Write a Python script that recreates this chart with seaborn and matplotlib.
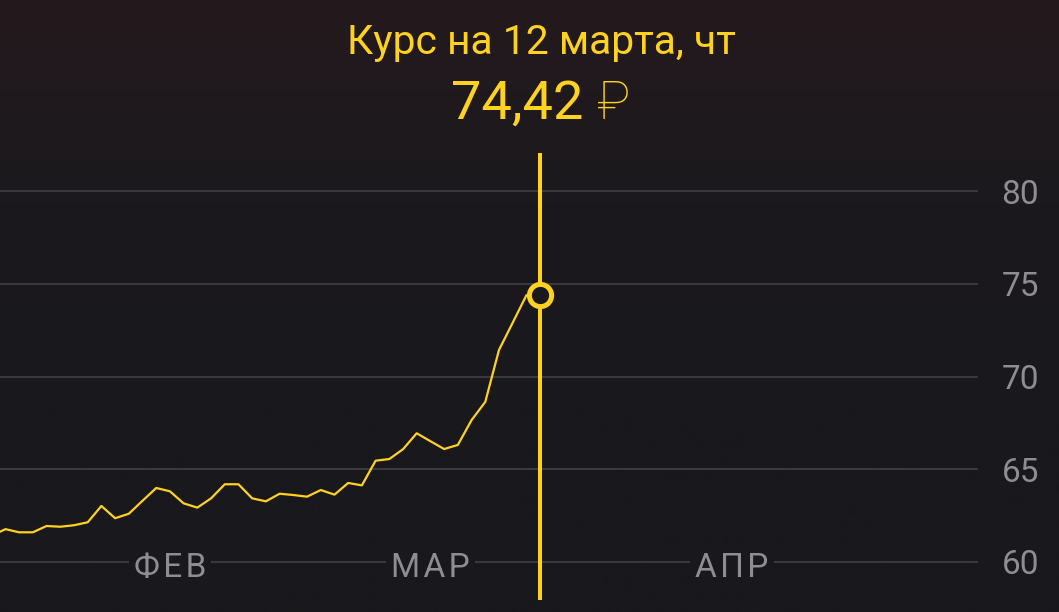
import numpy as np
import matplotlib
matplotlib.use("Agg")
import matplotlib.pyplot as plt
import seaborn as sns
from matplotlib.colors import LinearSegmentedColormap

# --- data (index = trading day, last point = 12 March) ---
rate = [61.42, 61.77, 61.60, 61.60, 61.94, 61.90, 61.98, 62.14, 63.02, 62.36,
        62.60, 63.30, 63.99, 63.81, 63.16, 62.93, 63.43, 64.19, 64.19, 63.43,
        63.27, 63.68, 63.61, 63.52, 63.88, 63.63, 64.26, 64.13, 65.46, 65.55,
        66.08, 66.94, 66.51, 66.09, 66.31, 67.65, 68.63, 71.43, 72.90, 74.38,
        74.42]
day_idx = list(range(len(rate)))
month_labels = ["Ф\u200aЕ\u200aВ", "М\u200aА\u200aР", "А\u200aП\u200aР"]
month_pos = [13, 32, 54]
y_ticks = [60, 65, 70, 75, 80]
title_text = "Курс на 12 марта, чт"
value_text = "74,42"
currency = "₽"

YELLOW = "#ffd21f"
BG = "#19181c"
GRID = "#39383d"
TICK = "#8e8d92"

sns.set_theme(style="dark")
plt.rcParams["font.family"] = ["Roboto", "DejaVu Sans"]

fig = plt.figure(figsize=(10.59, 6.12), dpi=100)

# background gradient (reddish at top, dark grey below)
bg_ax = fig.add_axes([0, 0, 1, 1], zorder=-1)
cmap = LinearSegmentedColormap.from_list("bg", ["#241a1e", "#1b191d", BG, BG])
grad = np.linspace(0, 1, 256).reshape(-1, 1)
bg_ax.imshow(grad, aspect="auto", cmap=cmap, extent=[0, 1, 0, 1], origin="upper")
bg_ax.axis("off")

ax = fig.add_axes([0, 12 / 612, 978 / 1059, 447 / 612])
ax.set_facecolor("none")

sns.lineplot(x=day_idx, y=rate, ax=ax, color=YELLOW, linewidth=1.6, zorder=3)
ax.axvline(day_idx[-1], color=YELLOW, linewidth=2.9, zorder=4)
ax.plot(day_idx[-1], rate[-1], marker="o", markersize=16, markeredgewidth=3.6,
        markeredgecolor=YELLOW, markerfacecolor=BG, zorder=5)

ax.set_xlim(0.605, 71.94)
ax.set_ylim(57.95, 82.05)
ax.set_yticks(y_ticks)
ax.yaxis.tick_right()
ax.tick_params(axis="y", length=0, pad=17, labelsize=24, labelcolor=TICK)
ax.set_xticks([])
ax.yaxis.grid(True, color=GRID, linewidth=1.5)
ax.xaxis.grid(False)
for s in ax.spines.values():
    s.set_visible(False)
for lab in ax.get_yticklabels():
    lab.set_clip_on(False)

for pos, lab in zip(month_pos, month_labels):
    ax.annotate(lab, xy=(pos, y_ticks[0]), xytext=(0, -10.8), textcoords="offset points",
                ha="center", va="baseline", fontsize=24, color=TICK, zorder=2,
                bbox=dict(boxstyle="square,pad=0.15", facecolor=BG, edgecolor="none"))

fig.text(541 / 1059, 1 - 42 / 612, title_text, ha="center", va="center",
         fontsize=29.4, color=YELLOW)
fig.text(583 / 1059, 1 - 104 / 612, value_text, ha="right", va="center",
         fontsize=39, color=YELLOW)
fig.text(597 / 1059, 1 - 104 / 612, currency, ha="left", va="center",
         fontsize=39, color=YELLOW, fontweight="light")

fig.savefig("out.png", dpi=100, facecolor=BG)
